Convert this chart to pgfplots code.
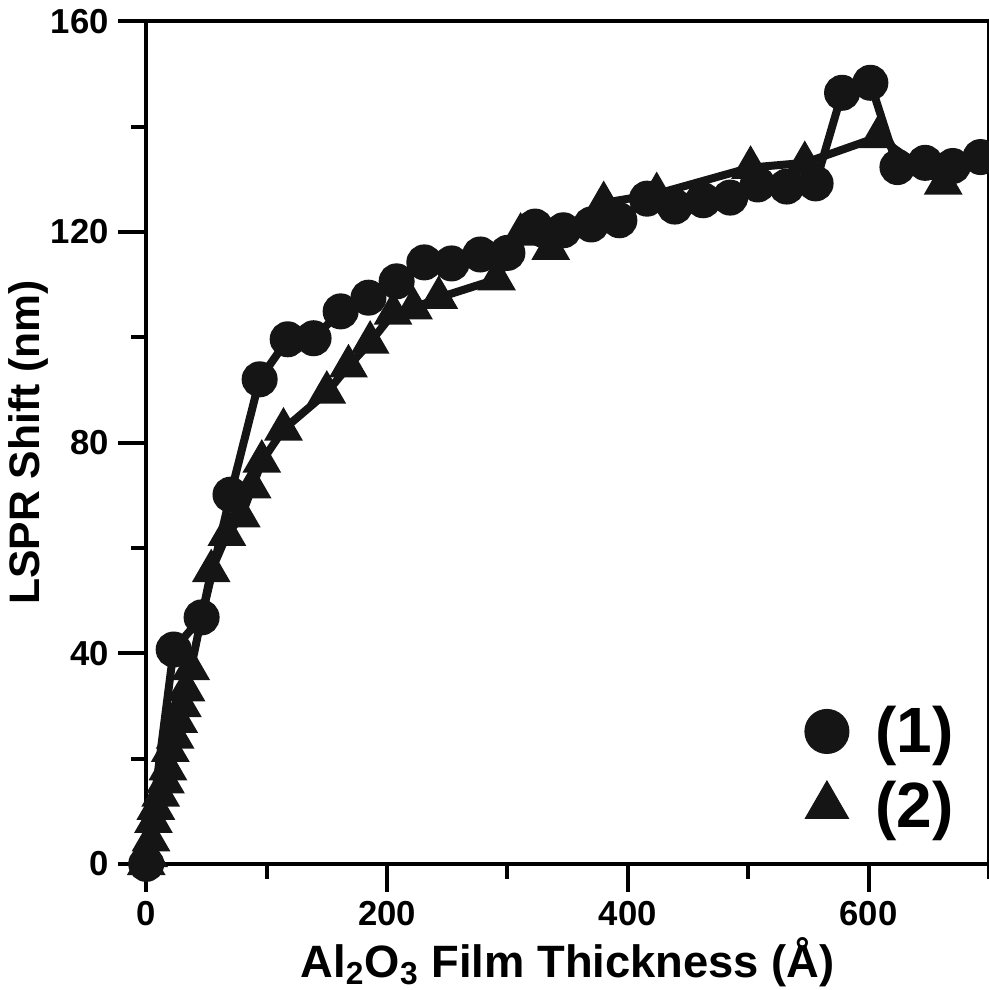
\documentclass[border=0pt]{standalone}
\usepackage{pgfplots}
\pgfplotsset{compat=1.18}
\usepackage{fontspec}
\setmainfont{Liberation Sans}
\definecolor{ink}{HTML}{151515}

\begin{document}
\begin{tikzpicture}[trim axis right]
\begin{axis}[
  scale only axis, width=316pt, height=316pt,
  xmin=0, xmax=700, ymin=0, ymax=160,
  xtick={0,200,400,600}, minor xtick={100,300,500,700},
  ytick={0,40,80,120,160}, minor ytick={20,60,100,140},
  tick align=outside, tick pos=left,
  major tick length=10.5pt, minor tick length=5.6pt,
  axis line style={line width=1.5pt},
  tick style={line width=1.5pt, black},
  /pgf/number format/assume math mode=true,
  tick label style={font=\fontsize{13}{13}\selectfont\bfseries},
  xlabel={Al\textsubscript{2}O\textsubscript{3} Film Thickness (Å)},
  ylabel={LSPR Shift (nm)},
  xlabel style={font=\fontsize{17}{17}\selectfont\bfseries, inner sep=1pt},
  ylabel style={font=\fontsize{16}{16}\selectfont\bfseries, yshift=-6pt},
  clip marker paths=false,
  legend style={draw=none, fill=none, at={(0.781,0.113)}, anchor=west,
    font=\fontsize{24}{24}\selectfont\bfseries, row sep=5pt, inner sep=0pt,
    /tikz/every odd column/.append style={column sep=8pt}},
  legend cell align=left,
]
\addlegendimage{only marks, mark=*, mark size=8.25pt, color=ink}
\addlegendentry{(1)}
\addlegendimage{only marks, mark=triangle*, mark size=9.3pt, color=ink}
\addlegendentry{(2)}

% series (2), triangles
\addplot[ink, line width=3pt, mark=triangle*, mark size=5.4pt, forget plot] coordinates {
  (0,0) (2,1.5) (4,4.5) (6,8) (8,10.5) (12,13) (16,15.5) (18,18) (20,21.5)
  (24,24) (27,27) (30,30) (33,33) (37,37) (54,55.6) (67,62.5) (79,66)
  (88,71.5) (96,76.4) (114,82.5) (150,89.5) (168,94.5) (186,99)
  (205,104.5) (222,105.5) (243,107.5) (291,111) (311,119.5) (336,116.8)
  (380,125.5) (424,127.2) (502,132.2) (547,133.1) (608,138) (662,129.2)
};
% series (1), circles
\addplot[ink, line width=3pt, mark=*, mark size=5.25pt, forget plot] coordinates {
  (0,0) (22.8,40.7) (46,46.8) (70,70.1) (94.2,92) (117.5,99.6) (139,99.8)
  (161.5,104.9) (184.6,107.5) (208,110.6) (231,114.2) (253.6,114)
  (277.5,115.7) (300,116) (323,121) (346.5,120.3) (369.6,121.4)
  (393,122.2) (416,126.3) (439,124.8) (462.6,126) (485,126.5)
  (508,129) (532,128.6) (556,129.2) (578,146.4) (601.5,148.3)
  (624,132.3) (647,133.1) (670,132.5) (693,134.2)
};
\end{axis}
\end{tikzpicture}
\end{document}
